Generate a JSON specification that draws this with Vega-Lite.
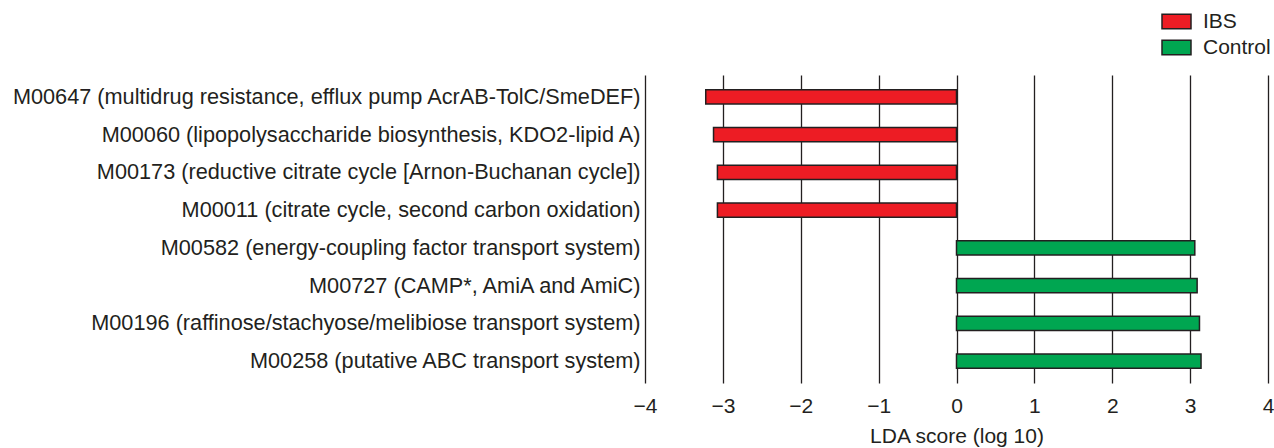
{
  "$schema": "https://vega.github.io/schema/vega-lite/v6.json",
  "autosize": {"type": "none"},
  "padding": {"left": 645, "top": 75, "right": 6, "bottom": 65},
  "width": 623,
  "height": 308,
  "background": "white",
  "config": {
    "view": {"stroke": null},
    "font": "Liberation Sans",
    "text": {"font": "Liberation Sans"}
  },
  "data": {
    "values": [
      {"module": "M00647 (multidrug resistance, efflux pump AcrAB-TolC/SmeDEF)", "lda": -3.22, "group": "IBS"},
      {"module": "M00060 (lipopolysaccharide biosynthesis, KDO2-lipid A)", "lda": -3.12, "group": "IBS"},
      {"module": "M00173 (reductive citrate cycle [Arnon-Buchanan cycle])", "lda": -3.07, "group": "IBS"},
      {"module": "M00011 (citrate cycle, second carbon oxidation)", "lda": -3.07, "group": "IBS"},
      {"module": "M00582 (energy-coupling factor transport system)", "lda": 3.06, "group": "Control"},
      {"module": "M00727 (CAMP*, AmiA and AmiC)", "lda": 3.09, "group": "Control"},
      {"module": "M00196 (raffinose/stachyose/melibiose transport system)", "lda": 3.12, "group": "Control"},
      {"module": "M00258 (putative ABC transport system)", "lda": 3.14, "group": "Control"}
    ]
  },
  "mark": {"type": "bar", "stroke": "#231f20", "strokeWidth": 1.5},
  "encoding": {
    "y": {
      "field": "module",
      "type": "nominal",
      "sort": null,
      "scale": {"paddingInner": 0.62, "paddingOuter": 0.39},
      "axis": {
        "title": null,
        "domain": false,
        "ticks": false,
        "tickSize": 0,
        "labelPadding": 5,
        "labelFontSize": 21.7,
        "labelFont": "Liberation Sans",
        "labelColor": "#231f20",
        "labelLimit": 1000
      }
    },
    "x": {
      "field": "lda",
      "type": "quantitative",
      "scale": {"domain": [-4, 4], "nice": false, "zero": false},
      "axis": {
        "values": [-4, -3, -2, -1, 0, 1, 2, 3, 4],
        "title": "LDA score (log 10)",
        "titleFontSize": 21,
        "titleFont": "Liberation Sans",
        "titleFontWeight": "normal",
        "titleColor": "#231f20",
        "titlePadding": 9,
        "domain": false,
        "ticks": false,
        "tickSize": 0,
        "labelFlush": false,
        "labelPadding": 12,
        "labelFontSize": 21,
        "labelFont": "Liberation Sans",
        "labelColor": "#231f20",
        "grid": true,
        "gridColor": "#231f20",
        "gridWidth": 1.3,
        "gridOpacity": 1
      }
    },
    "fill": {
      "field": "group",
      "type": "nominal",
      "scale": {"domain": ["IBS", "Control"], "range": ["#ed1c24", "#00a651"]},
      "legend": {
        "title": null,
        "orient": "none",
        "legendX": 516,
        "legendY": -69,
        "padding": 0,
        "symbolType": "M-1,-0.5H1V0.5H-1Z",
        "symbolSize": 841,
        "symbolStrokeColor": "#231f20",
        "symbolStrokeWidth": 1.5,
        "symbolOpacity": 1,
        "labelFontSize": 21,
        "labelFont": "Liberation Sans",
        "labelColor": "#231f20",
        "labelOffset": 11,
        "rowPadding": -5
      }
    }
  }
}
